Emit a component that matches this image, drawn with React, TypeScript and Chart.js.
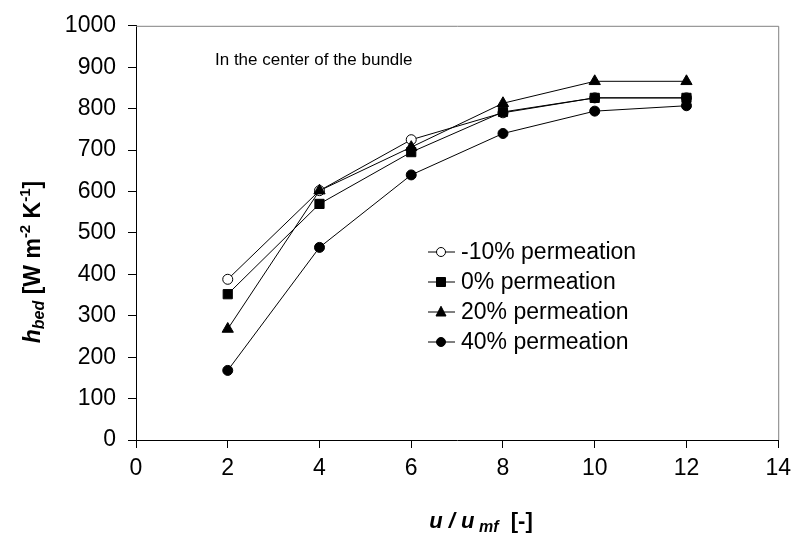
import React, { useEffect, useRef } from "react";
import { Chart, registerables } from "chart.js";

Chart.register(...registerables);

const xValues = [2, 4, 6, 8, 10, 12];
const seriesNames = ["-10% permeation", "0% permeation", "20% permeation", "40% permeation"];
const neg10 = [388, 602, 725, 790, 826, 826];
const perm0 = [352, 570, 695, 792, 826, 826];
const perm20 = [268, 602, 707, 813, 866, 866];
const perm40 = [168, 465, 640, 740, 794, 807];
const xTicks = [0, 2, 4, 6, 8, 10, 12, 14];
const yTicks = [0, 100, 200, 300, 400, 500, 600, 700, 800, 900, 1000];
const annotation = "In the center of the bundle";

const FONT = "'Liberation Sans', Arial, sans-serif";

type Seg = { t: string; bold?: boolean; italic?: boolean; size: number; dy?: number };

function drawRich(ctx: CanvasRenderingContext2D, segs: Seg[], cx: number, cy: number) {
  const fontOf = (s: Seg) => `${s.italic ? "italic " : ""}${s.bold ? "bold " : ""}${s.size}px ${FONT}`;
  let total = 0;
  for (const s of segs) {
    ctx.font = fontOf(s);
    total += ctx.measureText(s.t).width;
  }
  let x = cx - total / 2;
  ctx.textBaseline = "alphabetic";
  ctx.textAlign = "left";
  for (const s of segs) {
    ctx.font = fontOf(s);
    ctx.fillText(s.t, x, cy + (s.dy || 0));
    x += ctx.measureText(s.t).width;
  }
}

function drawMarker(ctx: CanvasRenderingContext2D, style: string, x: number, y: number, size: number, fill: string) {
  ctx.beginPath();
  if (style === "circle") {
    ctx.arc(x, y, size, 0, Math.PI * 2);
  } else if (style === "rect") {
    ctx.rect(x - size, y - size, size * 2, size * 2);
  } else if (style === "triangle") {
    ctx.moveTo(x, y - size * 1.15);
    ctx.lineTo(x + size, y + size * 0.8);
    ctx.lineTo(x - size, y + size * 0.8);
    ctx.closePath();
  }
  ctx.fillStyle = fill;
  ctx.fill();
  ctx.strokeStyle = "#000";
  ctx.lineWidth = 1;
  ctx.stroke();
}

// pointRadius values follow Chart.js conventions per marker shape
const styles = [
  { pointStyle: "circle", fill: "#ffffff", r: 5, legendSize: 4.5 },
  { pointStyle: "rect", fill: "#000000", r: 6.5, legendSize: 4.5 },
  { pointStyle: "triangle", fill: "#000000", r: 6.5, legendSize: 5 },
  { pointStyle: "circle", fill: "#000000", r: 5, legendSize: 4.5 },
];

const overlayPlugin = {
  id: "overlay",
  afterDraw(chart: any) {
    const ctx: CanvasRenderingContext2D = chart.ctx;
    const { left, right, top, bottom } = chart.chartArea;
    ctx.save();
    // top and right frame
    ctx.strokeStyle = "#808080";
    ctx.lineWidth = 1;
    ctx.beginPath();
    ctx.moveTo(left, top + 0.5);
    ctx.lineTo(right + 0.5, top + 0.5);
    ctx.lineTo(right + 0.5, bottom);
    ctx.stroke();

    ctx.fillStyle = "#000";
    // annotation
    ctx.font = `17px ${FONT}`;
    ctx.textAlign = "left";
    ctx.textBaseline = "middle";
    ctx.fillText(annotation, 215, 60);

    // legend
    const legendY = [252, 282, 312, 342];
    seriesNames.forEach((name, i) => {
      const y = legendY[i];
      ctx.strokeStyle = "#000";
      ctx.lineWidth = 1;
      ctx.beginPath();
      ctx.moveTo(428, y);
      ctx.lineTo(455, y);
      ctx.stroke();
      const st = styles[i];
      drawMarker(ctx, st.pointStyle, 441, y, st.legendSize, st.fill);
      ctx.fillStyle = "#000";
      ctx.font = `23px ${FONT}`;
      ctx.textAlign = "left";
      ctx.textBaseline = "middle";
      ctx.fillText(name, 461, y + 1);
    });

    // x title
    ctx.fillStyle = "#000";
    drawRich(
      ctx,
      [
        { t: "u / u", bold: true, italic: true, size: 22 },
        { t: " mf", bold: true, italic: true, size: 16, dy: 4 },
        { t: "  [-]", bold: true, size: 22 },
      ],
      481,
      528
    );

    // y title
    ctx.translate(40, 262);
    ctx.rotate(-Math.PI / 2);
    drawRich(
      ctx,
      [
        { t: "h", bold: true, italic: true, size: 23 },
        { t: "bed", bold: true, italic: true, size: 16, dy: 4 },
        { t: " [W m", bold: true, size: 23 },
        { t: "-2", bold: true, size: 15, dy: -10 },
        { t: " K", bold: true, size: 23 },
        { t: "-1", bold: true, size: 15, dy: -10 },
        { t: "]", bold: true, size: 23 },
      ],
      0,
      0
    );
    ctx.restore();
  },
};

export default function App() {
  const ref = useRef<HTMLCanvasElement | null>(null);

  useEffect(() => {
    if (!ref.current) return;
    const all = [neg10, perm0, perm20, perm40];
    const orders = [4, 3, 2, 1];
    const datasets = all.map((vals, i) => ({
      label: seriesNames[i],
      data: xValues.map((x, j) => ({ x, y: vals[j] })),
      borderColor: "#000",
      borderWidth: 1,
      backgroundColor: styles[i].fill,
      pointStyle: styles[i].pointStyle,
      pointRadius: styles[i].r,
      pointBorderColor: "#000",
      pointBorderWidth: 1,
      pointBackgroundColor: styles[i].fill,
      showLine: true,
      tension: 0,
      order: orders[i],
    }));

    const chart = new Chart(ref.current, {
      type: "scatter",
      data: { datasets },
      options: {
        animation: false,
        responsive: false,
        devicePixelRatio: 1,
        layout: { padding: { top: 19, right: 16, left: 0, bottom: 0 } },
        plugins: { legend: { display: false }, tooltip: { enabled: false } },
        scales: {
          x: {
            type: "linear",
            min: 0,
            max: 14,
            afterBuildTicks: (s: any) => {
              s.ticks = xTicks.map((v) => ({ value: v }));
            },
            afterFit: (s: any) => {
              s.height = 98;
            },
            grid: {
              display: true,
              drawOnChartArea: false,
              drawTicks: true,
              tickLength: 8,
              color: "#000",
            },
            border: { display: true, color: "#000", width: 1 },
            ticks: {
              color: "#000",
              padding: 7,
              font: { family: FONT, size: 23 },
              maxRotation: 0,
              callback: (v: any) => String(v),
            },
          },
          y: {
            type: "linear",
            min: 0,
            max: 1000,
            afterBuildTicks: (s: any) => {
              s.ticks = yTicks.map((v) => ({ value: v }));
            },
            afterFit: (s: any) => {
              s.width = 136;
            },
            grid: {
              display: true,
              drawOnChartArea: false,
              drawTicks: true,
              tickLength: 8,
              color: "#000",
            },
            border: { display: true, color: "#000", width: 1 },
            ticks: {
              color: "#000",
              padding: 12,
              font: { family: FONT, size: 23 },
              callback: (v: any) => String(v),
            },
          },
        },
      },
      plugins: [overlayPlugin],
    } as any);

    return () => chart.destroy();
  }, []);

  return (
    <div style={{ position: "absolute", left: 0, top: 0, width: 798, height: 538, background: "#fff" }}>
      <canvas ref={ref} width={798} height={538} style={{ width: 798, height: 538 }} />
    </div>
  );
}
